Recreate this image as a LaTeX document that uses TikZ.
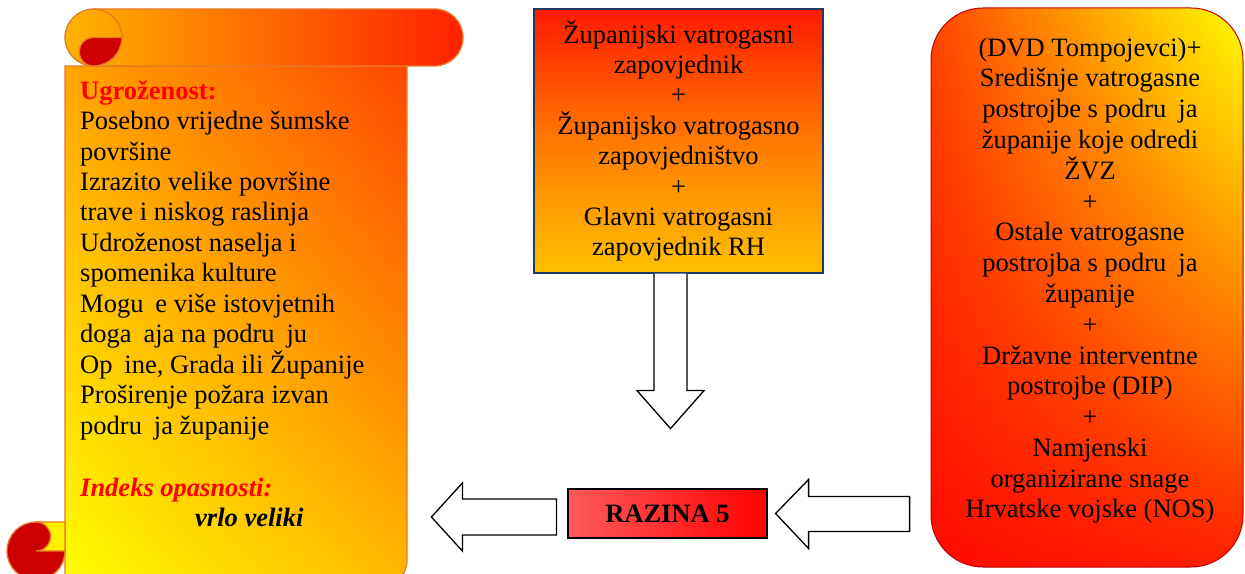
\documentclass[tikz,border=0pt]{standalone}
\usepackage{fontspec}
\setmainfont{Liberation Serif}
\usetikzlibrary{calc,shadings}

\definecolor{scrollline}{HTML}{E8782A}
\definecolor{curlred}{HTML}{CC0000}
\definecolor{rollleft}{HTML}{FFB300}
\definecolor{rollright}{HTML}{FF2000}
\definecolor{boxnavy}{HTML}{1F3864}
\definecolor{boxred}{HTML}{C00000}
\definecolor{razleft}{HTML}{FF5A5A}

\newcommand{\cgap}{\hspace{0.45em}}

\tikzset{
  scrolltext/.style={font=\fontsize{26.5}{30.45}\selectfont, inner sep=0pt, align=left},
  cmdtext/.style={font=\fontsize{26.5}{30.4}\selectfont, inner sep=0pt, align=center},
  forcetext/.style={font=\fontsize{26.5}{30.8}\selectfont, inner sep=0pt, align=center},
  fatarrow/.style={draw=black, fill=white, line width=1.3pt, line join=miter},
}

\begin{document}
\begin{tikzpicture}[x=1pt,y=1pt]
    \useasboundingbox (0,0) rectangle (1245,573);
    \clip (0,0) rectangle (1245,573);

    % scroll
    \shade[upper left={rgb,255:red,255;green,165;blue,0}, upper right={rgb,255:red,255;green,70;blue,0},
           lower left={rgb,255:red,255;green,255;blue,0}, lower right={rgb,255:red,255;green,185;blue,0}]
      (65,507) -- (407,507) -- (407,13) arc (0:-90:28) -- (65,-15) -- cycle;
    \draw[scrollline, line width=1.3pt] (65,507) -- (407,507) -- (407,13) arc (0:-90:28) -- (65,-15) -- cycle;
    \shade[left color=rollleft, right color=rollright]
      (93.5,507) arc (270:90:28.5) -- (434.5,564) arc (90:-90:28.5) -- cycle;
    \draw[scrollline, line width=1.3pt] (93.5,507) arc (270:90:28.5) -- (434.5,564) arc (90:-90:28.5) -- cycle;
    \filldraw[fill=curlred, draw=scrollline, line width=1.3pt]
      (93.5,535.5) -- (122,535.5) arc (0:-90:28.5) arc (270:90:14.25) -- cycle;
    \draw[scrollline, line width=1.3pt] (93.5,564) arc (90:-90:28.5);
    \filldraw[fill=curlred, draw=scrollline, line width=1.3pt] (36,22) circle (29);
    \filldraw[fill={rgb,255:red,255;green,240;blue,0}, draw=scrollline, line width=1.3pt]
      (36,51) -- (65,51) -- (65,22) -- (36,22) arc (-90:90:14.5);

    % base of the node is its last line
    \node[scrolltext, anchor=base west] (threat) at (80,46) {%
      \textcolor{red}{\bfseries Ugroženost:}\\
      Posebno vrijedne šumske\\
      površine\\
      Izrazito velike površine\\
      trave i niskog raslinja\\
      Udroženost naselja i\\
      spomenika kulture\\
      Mogu\cgap e više istovjetnih\\
      doga\cgap aja na podru\cgap ju\\
      Op\cgap ine, Grada ili Županije\\
      Proširenje požara izvan\\
      podru\cgap ja županije\\[32pt]
      \textcolor{red}{\bfseries\itshape Indeks opasnosti:}\\
      \hspace*{115pt}{\bfseries\itshape vrlo veliki}};

    % centre
    \node[cmdtext, draw=boxnavy, line width=1.2pt, top color={rgb,255:red,255;green,26;blue,0},
          bottom color={rgb,255:red,255;green,192;blue,0}, middle color={rgb,255:red,255;green,122;blue,0},
          minimum width=289, minimum height=264] (cmd) at (678.5,432) {%
      Županijski vatrogasni\\ zapovjednik\\ +\\ Županijsko vatrogasno\\ zapovjedništvo\\ +\\
      Glavni vatrogasni\\ zapovjednik RH};

    \node[draw=black, line width=1.2pt, left color=razleft, right color=red,
          minimum width=199, minimum height=49, inner sep=0pt,
          font=\fontsize{26.5}{30}\selectfont\bfseries] (level) at (667.5,59.5) {RAZINA 5};

    % right
    \node[draw=boxred, line width=1pt, rounded corners=52pt,
          upper left={rgb,255:red,255;green,70;blue,0}, upper right={rgb,255:red,255;green,255;blue,0},
          lower left={rgb,255:red,255;green,10;blue,0}, lower right={rgb,255:red,255;green,30;blue,0},
          minimum width=312, minimum height=559] (forces) at (1087,285.5) {};
    \node[forcetext, anchor=base] (forcelist) at (1090,55) {%
      (DVD Tompojevci)+\\ Središnje vatrogasne\\ postrojbe s podru\cgap ja\\ županije koje odredi\\ ŽVZ\\ +\\
      Ostale vatrogasne\\ postrojba s podru\cgap ja\\ županije\\ +\\
      Državne interventne\\ postrojbe (DIP)\\ +\\
      Namjenski\\ organizirane snage\\ Hrvatske vojske (NOS)};

    % arrows
    \draw[fatarrow] ($(cmd.south)+(-24.5,0)$) -- ++(0,-117) -- ++(-17,0) -- ++(33.5,-38)
      -- ++(33.5,38) -- ++(-17,0) -- ++(0,117);
    \draw[fatarrow] ($(level.west)+(-11,14.5)$) -- ++(-94,0) -- ++(0,16) -- ++(-31,-34)
      -- ++(31,-34) -- ++(0,16) -- ++(94,0) -- cycle;
    \draw[fatarrow] ($(level.east)+(8,0)$) -- ++(33,34) -- ++(0,-17) -- ++(101,0)
      -- ++(0,-35) -- ++(-101,0) -- ++(0,-17) -- cycle;
\end{tikzpicture}
\end{document}
